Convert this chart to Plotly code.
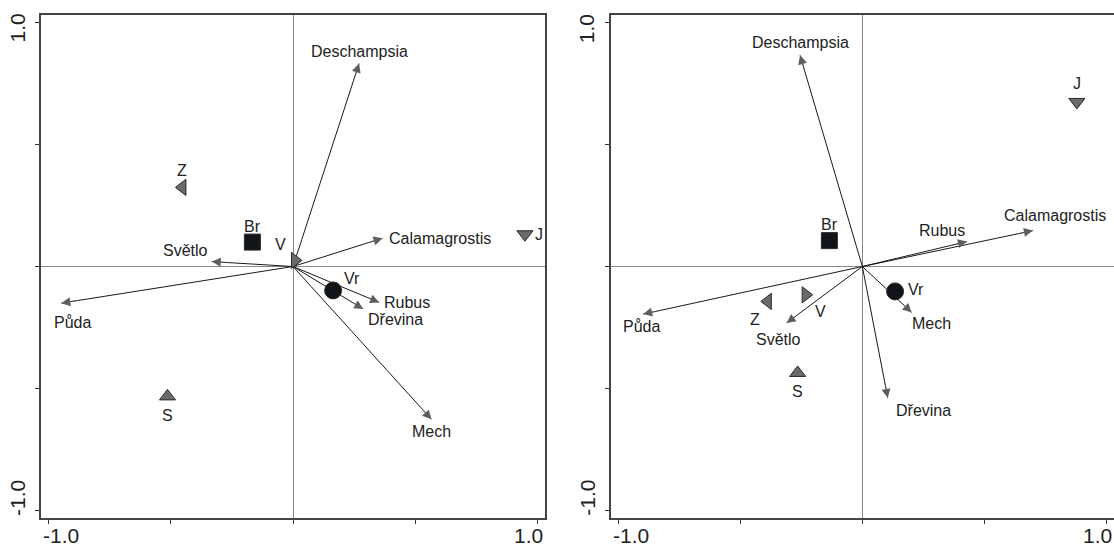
import plotly.graph_objects as go

# ---------------- data: ordination scores ----------------
# Panel 1 (left)
left_sites = ["Z", "Br", "V", "J", "S", "Vr"]
left_site_x = [-0.452, -0.166, 0.008, 0.948, -0.513, 0.164]
left_site_y = [0.324, 0.100, 0.025, 0.132, -0.532, -0.098]

left_vars = ["Deschampsia", "Calamagrostis", "Světlo", "Půda", "Rubus", "Dřevina", "Mech"]
left_var_x = [0.270, 0.366, -0.332, -0.947, 0.352, 0.287, 0.566]
left_var_y = [0.831, 0.116, 0.020, -0.150, -0.147, -0.174, -0.626]

# Panel 2 (right)
right_sites = ["Z", "Br", "V", "J", "S", "Vr"]
right_site_x = [-0.387, -0.135, -0.232, 0.878, -0.265, 0.134]
right_site_y = [-0.143, 0.106, -0.116, 0.674, -0.436, -0.102]

right_vars = ["Deschampsia", "Calamagrostis", "Světlo", "Půda", "Rubus", "Dřevina", "Mech"]
right_var_x = [-0.255, 0.698, -0.310, -0.897, 0.428, 0.104, 0.202]
right_var_y = [0.865, 0.147, -0.231, -0.195, 0.102, -0.538, -0.188]

tick_vals = [-1.0, -0.5, 0.0, 0.5, 1.0]
end_tick_text = ["-1.0", "1.0"]   # only the axis ends carry a label

# ---------------- styling ----------------
FONT = "Arial, Liberation Sans, sans-serif"
TXT = "#222222"
GRAY = "#6a6a6a"
DARK = "#111418"

site_style = {
    "Z": dict(symbol="triangle-left", color=GRAY, size=14),
    "V": dict(symbol="triangle-right", color=GRAY, size=14),
    "J": dict(symbol="triangle-down", color=GRAY, size=14),
    "S": dict(symbol="triangle-up", color=GRAY, size=14),
    "Br": dict(symbol="square", color=DARK, size=16),
    "Vr": dict(symbol="circle", color=DARK, size=17),
}

# label placement (pixel offsets, anchor) per panel
left_site_lab = {
    "Z": (0, -17, "center"), "Br": (0, -16, "center"), "V": (-14, -16, "center"),
    "J": (14, 0, "center"), "S": (0, 19, "center"), "Vr": (19, -12, "center"),
}
left_var_lab = {
    "Deschampsia": (0, -12, "center"), "Calamagrostis": (4, 0, "left"),
    "Světlo": (-2, -11, "right"), "Půda": (11, 19, "center"),
    "Rubus": (3, 0, "left"), "Dřevina": (3, 11, "left"), "Mech": (0, 12, "center"),
}
right_site_lab = {
    "Z": (-13, 18, "center"), "Br": (0, -16, "center"), "V": (15, 17, "center"),
    "J": (0, -18, "center"), "S": (0, 19, "center"), "Vr": (21, -2, "center"),
}
right_var_lab = {
    "Deschampsia": (0, -13, "center"), "Calamagrostis": (22, -15, "center"),
    "Světlo": (-8, 17, "center"), "Půda": (-2, 12, "center"),
    "Rubus": (-25, -11, "center"), "Dřevina": (36, 13, "center"), "Mech": (20, 11, "center"),
}

PX_PER_UNIT = 244.5
LABEL_SIZE = 16
TICK_SIZE = 21
RANGE = [-1.03, 1.03]

fig = go.Figure()
annotations = []


def add_panel(xref, yref, sites, sx, sy, vars_, vx, vy, site_lab, var_lab):
    # arrow shafts from the origin
    lx, ly = [], []
    for x, y in zip(vx, vy):
        lx += [0, x, None]
        ly += [0, y, None]
    fig.add_trace(go.Scatter(x=lx, y=ly, mode="lines", xaxis=xref, yaxis=yref,
                             line=dict(color="#1a1a1a", width=1), hoverinfo="skip",
                             showlegend=False))
    # arrow heads (thin short shaft hidden under the black line)
    for name, x, y in zip(vars_, vx, vy):
        length_px = (x * x + y * y) ** 0.5 * PX_PER_UNIT
        f = 1 - 20.0 / length_px
        annotations.append(dict(
            x=x, y=y, ax=x * f, ay=y * f, xref=xref, yref=yref,
            axref=xref, ayref=yref, text="", showarrow=True,
            arrowhead=2, arrowsize=3.6, arrowwidth=0.5, arrowcolor="#5e5e5e",
            standoff=0,
        ))
        dx, dy, anchor = var_lab[name]
        annotations.append(dict(
            x=x, y=y, xref=xref, yref=yref, text=name, showarrow=False,
            xshift=dx, yshift=-dy, xanchor=anchor, yanchor="middle",
            font=dict(family=FONT, size=LABEL_SIZE, color=TXT),
        ))
    # site symbols
    for name, x, y in zip(sites, sx, sy):
        st = site_style[name]
        fig.add_trace(go.Scatter(
            x=[x], y=[y], mode="markers", xaxis=xref, yaxis=yref,
            marker=dict(symbol=st["symbol"], size=st["size"], color=st["color"],
                        line=dict(color="#2a2a2a", width=1)),
            hoverinfo="skip", showlegend=False))
        dx, dy, anchor = site_lab[name]
        annotations.append(dict(
            x=x, y=y, xref=xref, yref=yref, text=name, showarrow=False,
            xshift=dx, yshift=-dy, xanchor=anchor, yanchor="middle",
            font=dict(family=FONT, size=LABEL_SIZE, color=TXT),
        ))

    # end-of-axis labels, aligned flush with the frame edges
    tfont = dict(family=FONT, size=TICK_SIZE, color=TXT)
    for txt, xv, anchor in zip(end_tick_text, RANGE, ["left", "right"]):
        annotations.append(dict(
            x=xv, y=0, xref=xref, yref=yref + " domain", text=txt, showarrow=False,
            xanchor=anchor, yanchor="middle", yshift=-17, font=tfont))
    for txt, yv, anchor, ys in zip(end_tick_text, RANGE, ["bottom", "top"], [0, 3]):
        annotations.append(dict(
            x=0, y=yv, xref=xref + " domain", yref=yref, text=txt, showarrow=False,
            textangle=-90, xanchor="center", yanchor=anchor, xshift=-24, yshift=ys,
            font=tfont))


add_panel("x", "y", left_sites, left_site_x, left_site_y,
          left_vars, left_var_x, left_var_y, left_site_lab, left_var_lab)
add_panel("x2", "y2", right_sites, right_site_x, right_site_y,
          right_vars, right_var_x, right_var_y, right_site_lab, right_var_lab)

axis_common = dict(
    range=RANGE, tickvals=tick_vals, showticklabels=False,
    ticks="outside", ticklen=4, tickcolor="#333", tickwidth=1,
    showline=True, linecolor="#444", linewidth=1.5, mirror=True,
    showgrid=False, zeroline=True, zerolinecolor="#888", zerolinewidth=1,
    fixedrange=True, automargin=False,
)

W = 1114
L = 41
plot_w = W - L
fig.update_layout(
    width=W, height=546,
    margin=dict(l=L, r=0, t=15, b=28),
    paper_bgcolor="white", plot_bgcolor="white",
    xaxis=dict(domain=[0, 504 / plot_w], anchor="y", **axis_common),
    yaxis=dict(domain=[0, 1], anchor="x", **axis_common),
    xaxis2=dict(domain=[569.7 / plot_w, 1], anchor="y2", **axis_common),
    yaxis2=dict(domain=[0, 1], anchor="x2", **axis_common),
    annotations=annotations,
    showlegend=False,
)

fig.write_html("out.html")
